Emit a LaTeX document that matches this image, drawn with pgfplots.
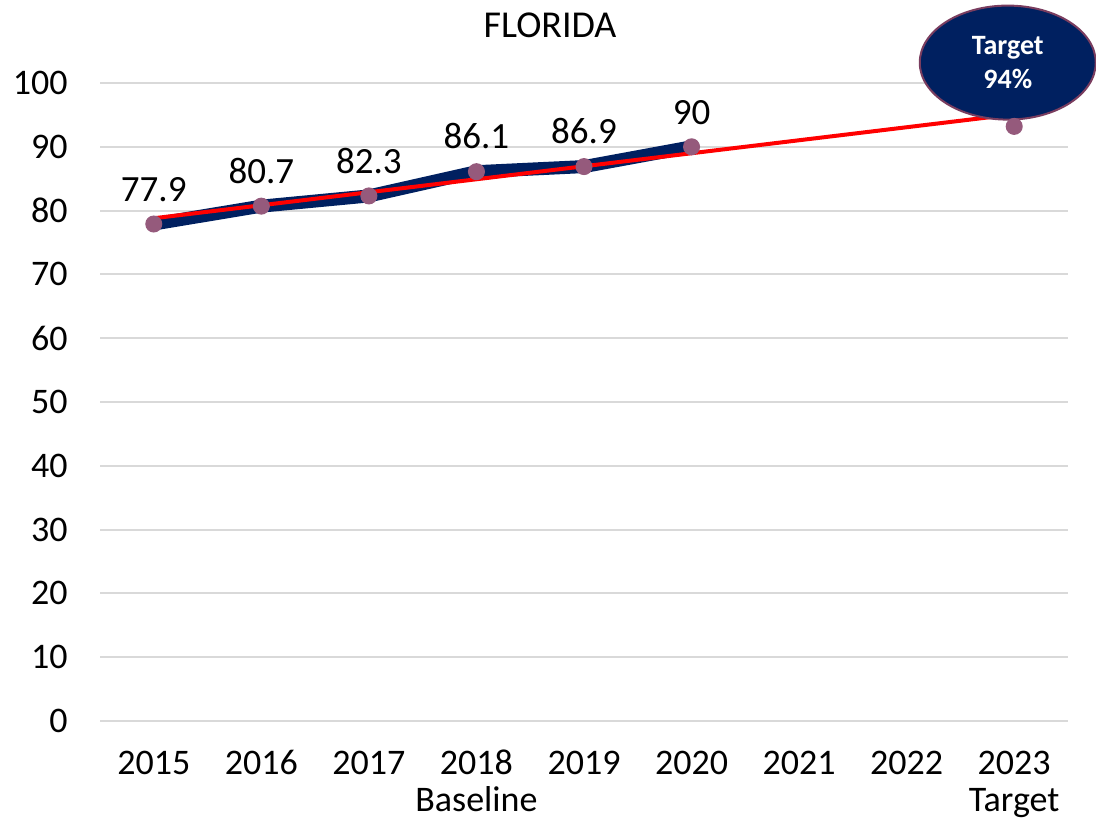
\documentclass[border=0pt]{standalone}
\usepackage{fontspec}
\setmainfont{Carlito}
\usepackage{pgfplots}
\pgfplotsset{compat=1.18}
\usetikzlibrary{shapes.geometric}
\definecolor{navy}{HTML}{002060}
\definecolor{mauve}{HTML}{955A7C}
\definecolor{rim}{HTML}{7A3D5F}
\definecolor{gridgray}{HTML}{D9D9D9}
\begin{document}
\fontsize{18}{21}\selectfont
\begin{tikzpicture}
\path[use as bounding box] (-50pt,-50pt) rectangle (498pt,360.5pt);
\begin{axis}[
  at={(0,0)}, anchor=south west,
  scale only axis, width=484pt, height=319pt,
  xmin=-0.5, xmax=8.5, ymin=0, ymax=100,
  xtick={0,...,8},
  xticklabels={{\strut2015\\\strut},{\strut2016\\\strut},{\strut2017\\\strut},{\strut2018\\Baseline},
    {\strut2019\\\strut},{\strut2020\\\strut},{\strut2021\\\strut},{\strut2022\\\strut},{\strut2023\\Target}},
  xticklabel style={align=center, anchor=north, yshift=-7.5pt},
  ytick={0,10,...,100},
  yticklabel style={xshift=-10pt},
  ymajorgrids, grid style={gridgray, line width=1pt},
  axis line style={draw=none}, major tick length=0pt,
  tick label style={font=\fontsize{18}{18.5}\selectfont},
  /pgf/number format/assume math mode=true,
  clip=false,
]
\addplot[navy, line width=6.5pt, mark=*, mark size=4pt,
  mark options={draw=mauve, fill=mauve, line width=0.5pt},
  nodes near coords, point meta=explicit symbolic,
  every node near coord/.style={anchor=south, yshift=5pt, black, font=\fontsize{18.5}{21}\selectfont}]
  coordinates {(0,77.9)[77.9] (1,80.7)[80.7] (2,82.3)[82.3] (3,86.1)[86.1] (4,86.9)[86.9] (5,90)[90]};
\addplot[only marks, mark=*, mark size=4pt, mark options={draw=mauve, fill=mauve, line width=0.5pt}] coordinates {(8,93.2)};
\addplot[red, line width=2pt] coordinates {(0,78.8) (7.9,94.9)};
\node[font=\fontsize{19}{22}\selectfont] at ([yshift=29pt]rel axis cs:0.465,1) {FLORIDA};
\node[ellipse, fill=navy, draw=rim, line width=1pt, minimum width=88pt, minimum height=57pt,
  inner sep=0pt, text=white, align=center, font=\bfseries\fontsize{14}{17}\selectfont]
  at (axis cs:7.94,103.2) {Target\\94\%};
\end{axis}
\end{tikzpicture}
\end{document}
